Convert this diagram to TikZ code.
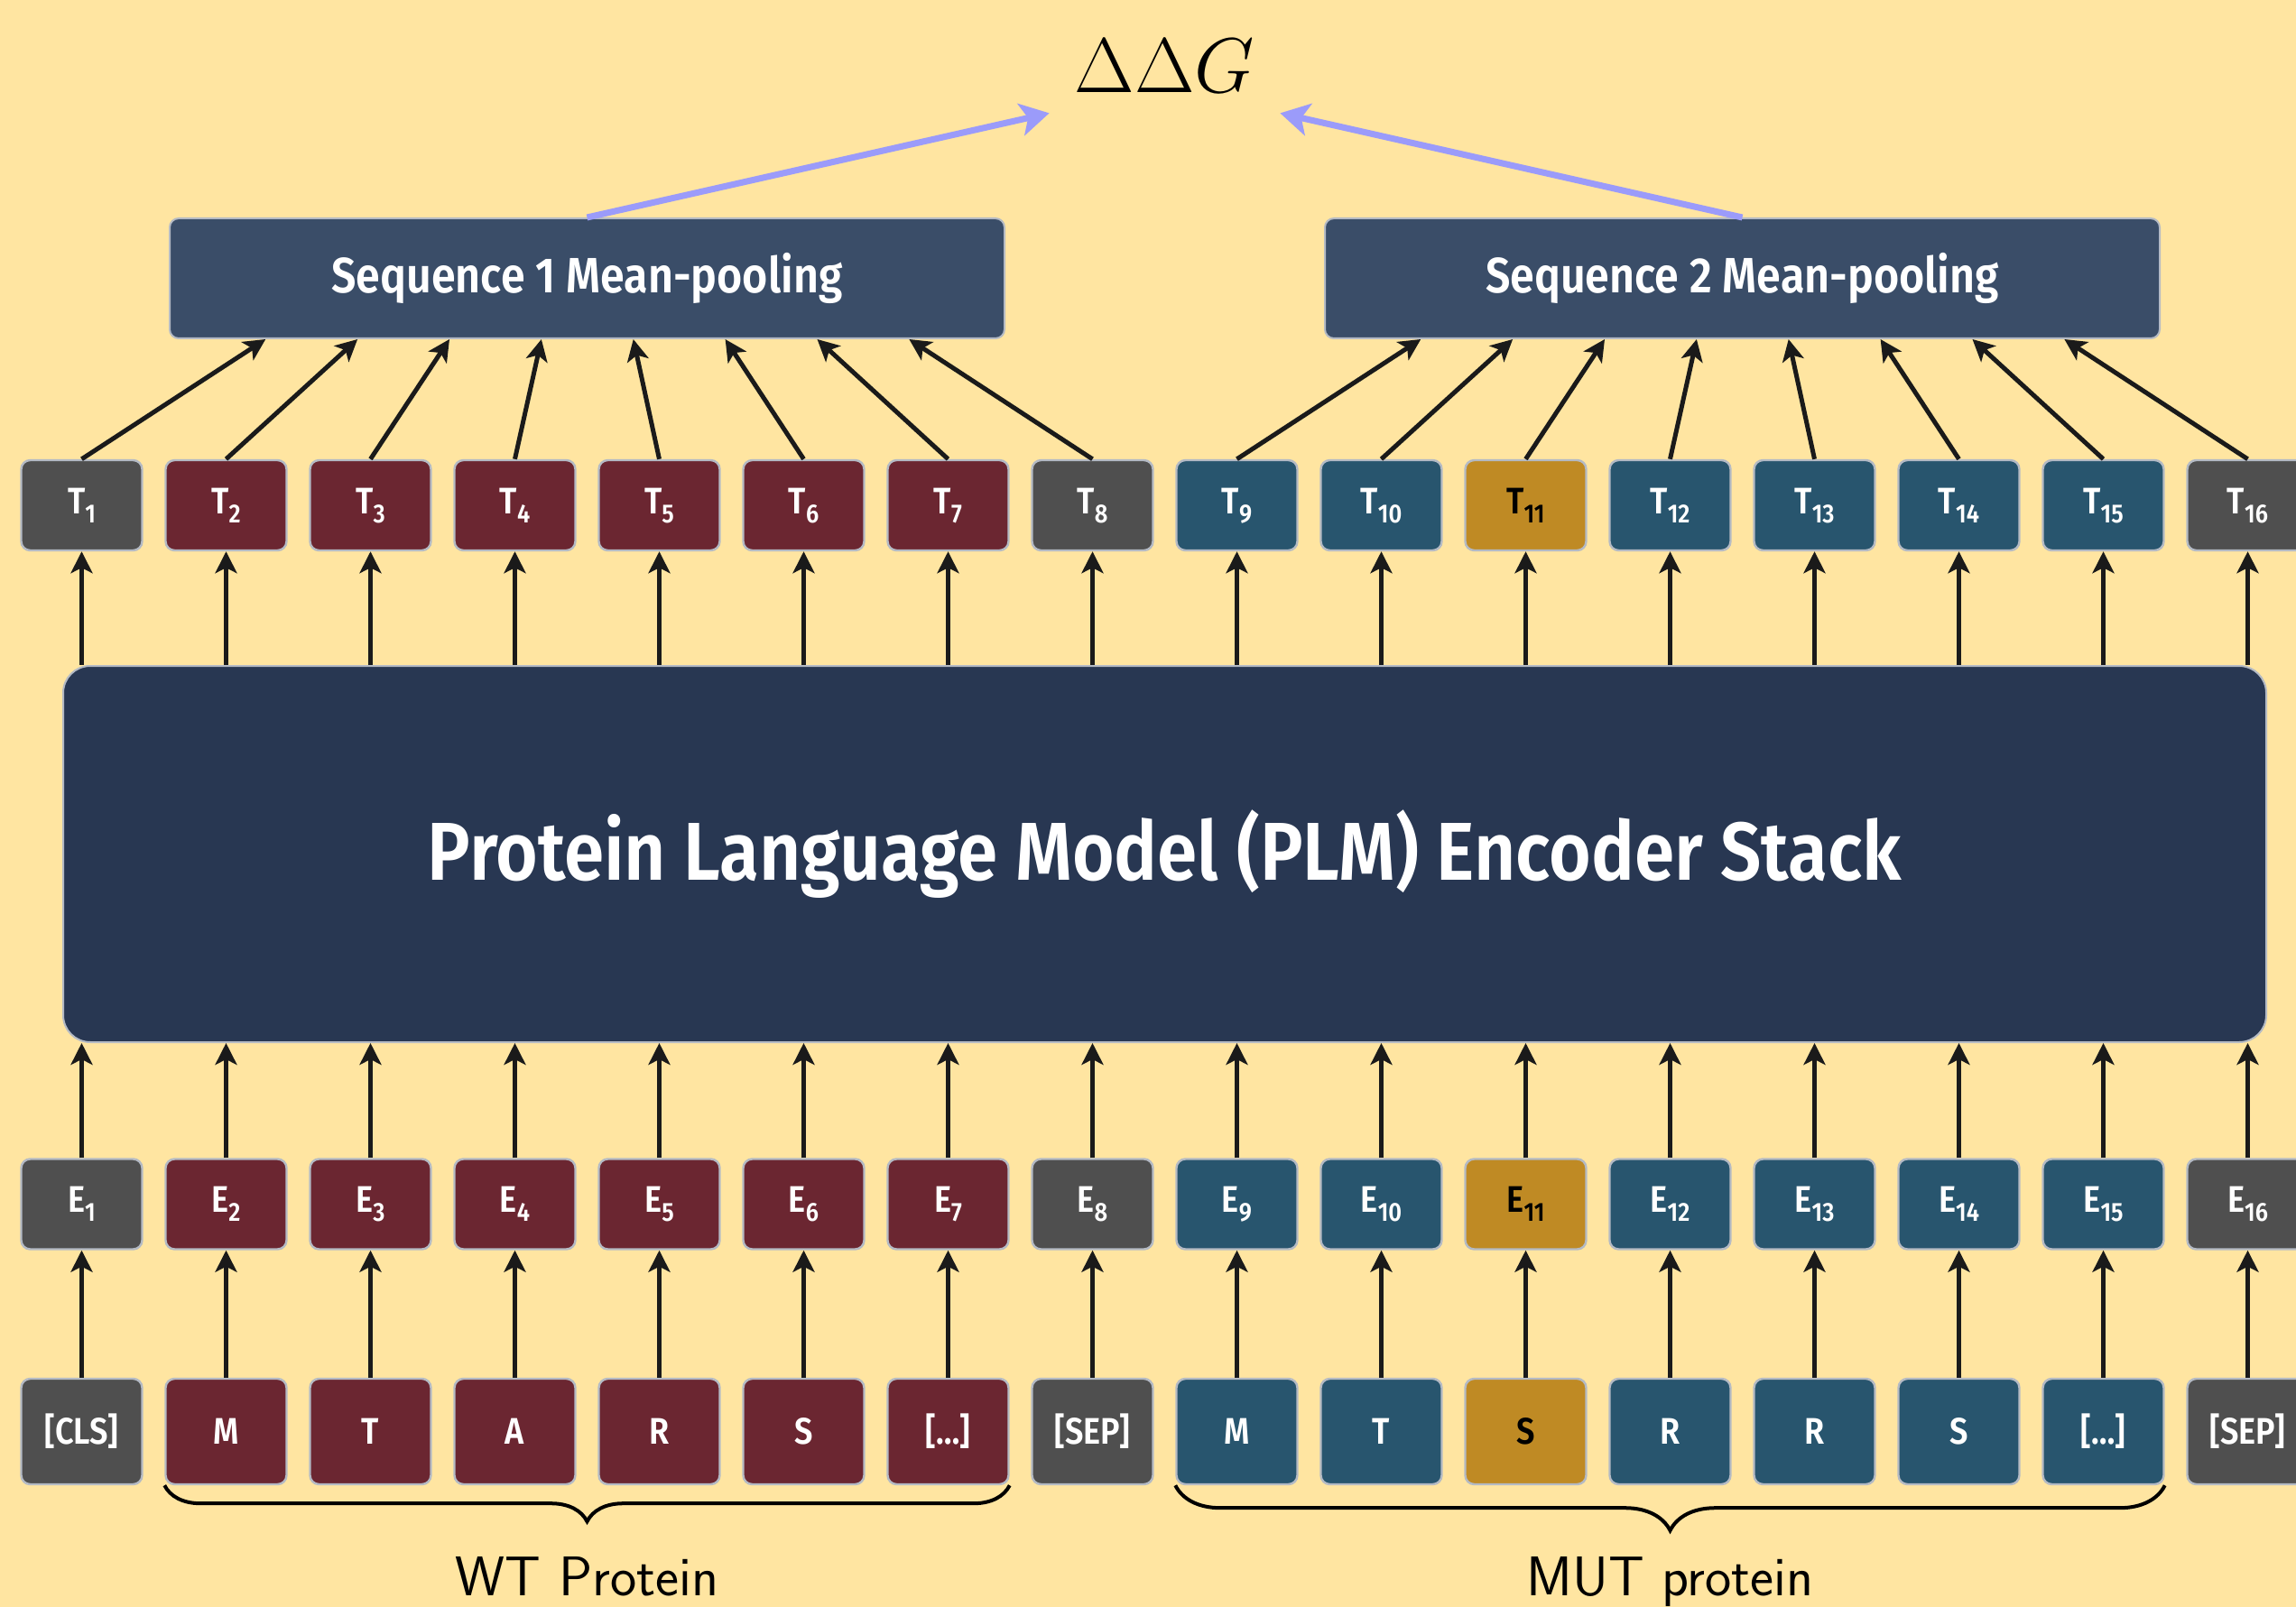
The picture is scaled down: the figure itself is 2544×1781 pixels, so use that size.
\documentclass[tikz,border=0pt]{standalone}
\usepackage{graphicx}
\usepackage{fontspec}
\usetikzlibrary{arrows.meta,calc,decorations.pathreplacing}

% Condensed semibold sans for all token and block labels
\newfontfamily\boxfont{Fira Sans}[UprightFont={* SemiBold},FakeStretch=0.88]

\definecolor{bgcol}{HTML}{FFE5A1}
\definecolor{tokgray}{HTML}{4F4F4F}
\definecolor{tokred}{HTML}{6B2631}
\definecolor{tokblue}{HTML}{28556E}
\definecolor{tokgold}{HTML}{BF8A24}
\definecolor{plmcol}{HTML}{283752}
\definecolor{seqcol}{HTML}{3A4D68}
\definecolor{bordercol}{HTML}{B4BAC4}
\definecolor{arrowcol}{HTML}{1A1A1A}
\definecolor{poolarrow}{HTML}{9B9BFA}

% token label with a lowered index
\newcommand\tksub[2]{#1\raisebox{-5pt}{\fontsize{14.5}{15}\selectfont#2}}

\tikzset{
  tok/.style={draw=bordercol, line width=1.2pt, rounded corners=5pt,
    minimum width=67pt, minimum height=50pt, inner sep=0pt,
    font=\boxfont\fontsize{20.5}{24}\selectfont, text height=14pt, text depth=5pt},
  intok/.style={tok, minimum height=58.5pt, text depth=0pt},
  block/.style={draw=bordercol, line width=1pt, text=white, inner sep=0pt},
  link/.style={draw=arrowcol, line width=2.5pt,
    -{Stealth[length=12pt,width=12pt,inset=3pt]}},
  poollink/.style={draw=poolarrow, line width=3.5pt,
    -{Stealth[length=16pt,width=18pt,inset=4pt]}},
  bracestyle/.style={draw=black, line width=2pt, decorate},
  protlabel/.style={anchor=base, inner sep=0pt, font=\sffamily\fontsize{31}{34}\selectfont}
}

\begin{document}
\begin{tikzpicture}[x=0.5pt,y=-0.5pt]
\useasboundingbox (0,0) rectangle (2544,1781);
\clip (0,0) rectangle (2544,1781);
\fill[bgcol] (0,0) rectangle (2544,1781);

% encoder stack
\node[block, fill=plmcol, rounded corners=15pt, minimum width=1220.5pt, minimum height=208.5pt,
  font=\boxfont\fontsize{45.5}{50}\selectfont] (plm) at (1290.5,946.5)
  {Protein Language Model (PLM) Encoder Stack};

% pooling blocks
\node[block, fill=seqcol, rounded corners=5pt, minimum width=462.5pt, minimum height=66.5pt,
  font=\boxfont\fontsize{27.5}{30}\selectfont] (seq1) at (650.5,308.5) {Sequence 1 Mean-pooling};
\node[block, fill=seqcol, rounded corners=5pt, minimum width=462.5pt, minimum height=66.5pt,
  font=\boxfont\fontsize{27.5}{30}\selectfont] (seq2) at (1930.5,308.5) {Sequence 2 Mean-pooling};

% output quantity
\node[anchor=base, minimum width=127.5pt, inner sep=0pt, text depth=11pt]
  (ddg) at (1290.5,103) {\scalebox{1.73}{\fontsize{24.88}{30}\selectfont$\Delta\Delta G$}};

% token columns: input, embedding, contextual output
\foreach \i/\fc/\tc/\lab in {
  1/tokgray/white/{[CLS]}, 2/tokred/white/M, 3/tokred/white/T, 4/tokred/white/A,
  5/tokred/white/R, 6/tokred/white/S, 7/tokred/white/{[…]}, 8/tokgray/white/{[SEP]},
  9/tokblue/white/M, 10/tokblue/white/T, 11/tokgold/black/S, 12/tokblue/white/R,
  13/tokblue/white/R, 14/tokblue/white/S, 15/tokblue/white/{[…]}, 16/tokgray/white/{[SEP]}}
{
  \pgfmathsetmacro\cx{90.5+160*(\i-1)}
  \node[intok, fill=\fc, text=\tc] (in\i) at (\cx,1586.5) {\lab};
  \node[tok, fill=\fc, text=\tc] (E\i) at (\cx,1334.5) {\tksub{E}{\i}};
  \node[tok, fill=\fc, text=\tc] (T\i) at (\cx,560) {\tksub{T}{\i}};
  \draw[link] (in\i.north) -- (E\i.south);
  \draw[link] (E\i.north) -- (E\i |- plm.south);
  \draw[link] (T\i |- plm.north) -- (T\i.south);
}

% contextual outputs feed the two pooling blocks
\foreach \i in {1,...,8}{
  \draw[link] (T\i.north) -- ($(seq1.south west)!{0.1157+0.1099*(\i-1)}!(seq1.south east)$);
}
\foreach \i in {9,...,16}{
  \draw[link] (T\i.north) -- ($(seq2.south west)!{0.1157+0.1099*(\i-9)}!(seq2.south east)$);
}

% pooled vectors combine into the prediction
\draw[poollink] (seq1.north) -- (ddg.south west);
\draw[poollink] (seq2.north) -- (ddg.south east);

% protein braces and labels
\draw[bracestyle, decoration={brace,mirror,amplitude=20pt}] (in2.south west) -- (in7.south east);
\draw[bracestyle, decoration={brace,mirror,amplitude=25pt}] (in9.south west) -- (in15.south east);
\node[protlabel] (wt) at (650.5,1768) {WT Protein};
\node[protlabel] (mut) at (1850.5,1768) {MUT protein};
\end{tikzpicture}
\end{document}
